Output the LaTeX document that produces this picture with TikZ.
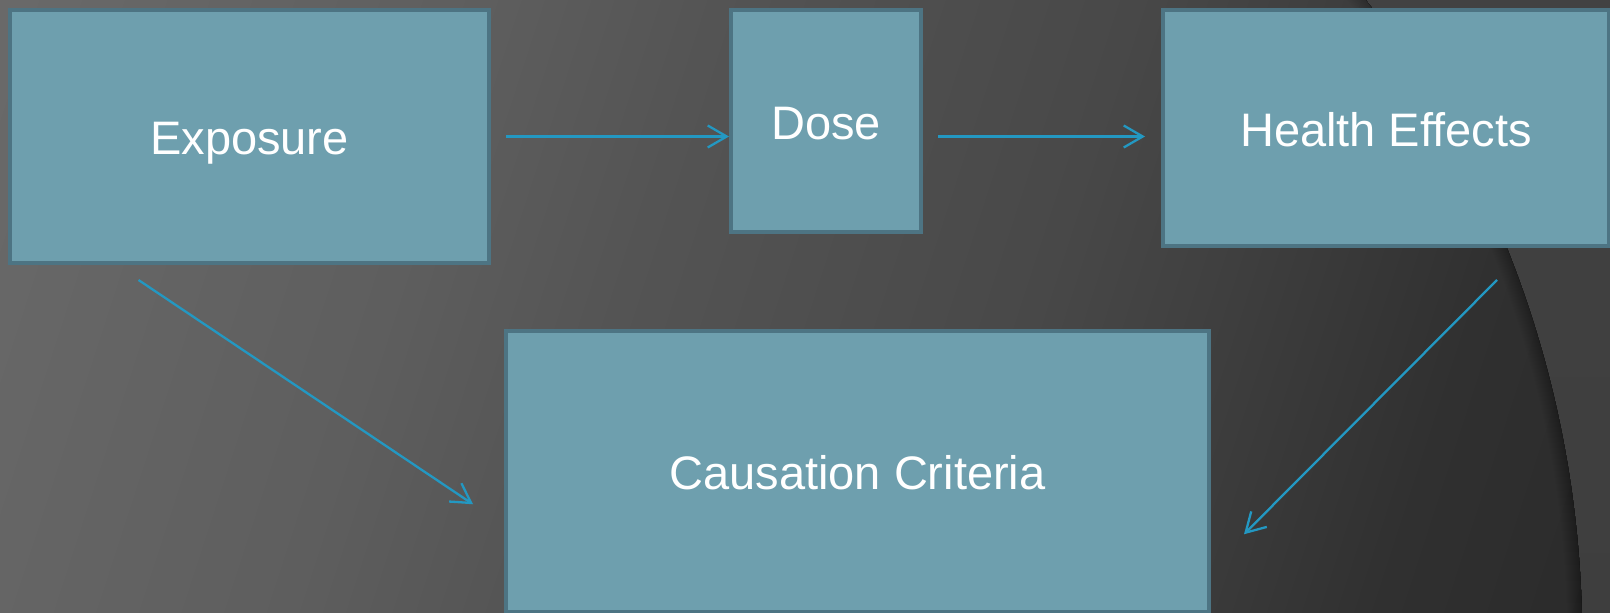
\documentclass[tikz,border=0pt]{standalone}
\usepackage{fontspec}
\setmainfont{Liberation Sans}
\usetikzlibrary{arrows.meta,calc}
\definecolor{boxfill}{RGB}{110,159,174}
\definecolor{boxline}{RGB}{77,116,131}
\definecolor{arrowc}{RGB}{35,152,194}
\definecolor{gA}{RGB}{108,108,108}
\definecolor{gB}{RGB}{106,106,106}
\definecolor{gC}{RGB}{94,94,94}
\definecolor{gD}{RGB}{84,84,84}
\definecolor{gE}{RGB}{72,72,72}
\definecolor{gF}{RGB}{64,64,64}
\definecolor{gG}{RGB}{48,48,48}
\definecolor{gH}{RGB}{42,42,42}
\definecolor{outA}{RGB}{68,68,68}
\definecolor{outB}{RGB}{56,56,56}
\pgfdeclarehorizontalshading{bgshade}{100bp}{color(0bp)=(gA); color(30bp)=(gB); color(41bp)=(gC); color(46bp)=(gD); color(55bp)=(gE); color(58.5bp)=(gF); color(64.5bp)=(gG); color(70bp)=(gH); color(100bp)=(gH)}
\tikzset{
  box/.style={draw=boxline, fill=boxfill, line width=4pt, inner sep=0pt,
    text=white, font=\fontsize{47}{56}\selectfont, text height=36.5pt, text depth=0pt},
  arr/.style={draw=arrowc, line width=2.3pt, -{Straight Barb[length=19pt,width=22pt]}}
}
\begin{document}
\begin{tikzpicture}[x=1pt,y=-1pt]
\useasboundingbox (0,0) rectangle (1610,613);
% background
\begin{scope}
  \clip (-2,-2) rectangle (1612,615);
  \begin{scope}[transform canvas={rotate around={-18:(805,306)}}]
    \shade[shading=bgshade] (-300,-500) rectangle (1910,1113);
  \end{scope}
  \fill[top color=outA, bottom color=outB, even odd rule]
    (-2,-2) rectangle (1612,615) (527.6,640) circle[radius=1054.8pt];
  \begin{scope}
    \clip (527.6,640) circle[radius=1054.8pt];
    \foreach \w in {2,4,...,30}
      \draw[black, opacity=0.012, line width=\w pt] (527.6,640) circle[radius=1054.8pt];
  \end{scope}
\end{scope}
% boxes
\node[box, minimum width=479pt, minimum height=253pt] (expo) at (249.5,136.5) {Exposure};
\node[box, minimum width=190pt, minimum height=222pt] (dose) at (826,121) {Dose};
\node[box, minimum width=446pt, minimum height=236pt] (health) at (1386,128) {Health Effects};
\node[box, minimum width=703pt, minimum height=280.5pt] (cause) at (857.5,471.25) {Causation Criteria};
% arrows
\draw[arr] ($(expo.east)+(15,0)$) -- (expo.east -| dose.west);
\draw[arr, shorten >=16pt] ($(expo.east -| dose.east)+(15,0)$) -- (expo.east -| health.west);
\draw[arr] ($(expo.south)+(-111,15)$) -- ($(cause.west)+(-31,33)$);
\draw[arr] ($(health.south)+(111,32)$) -- ($(cause.east)+(33,63)$);
\end{tikzpicture}
\end{document}
